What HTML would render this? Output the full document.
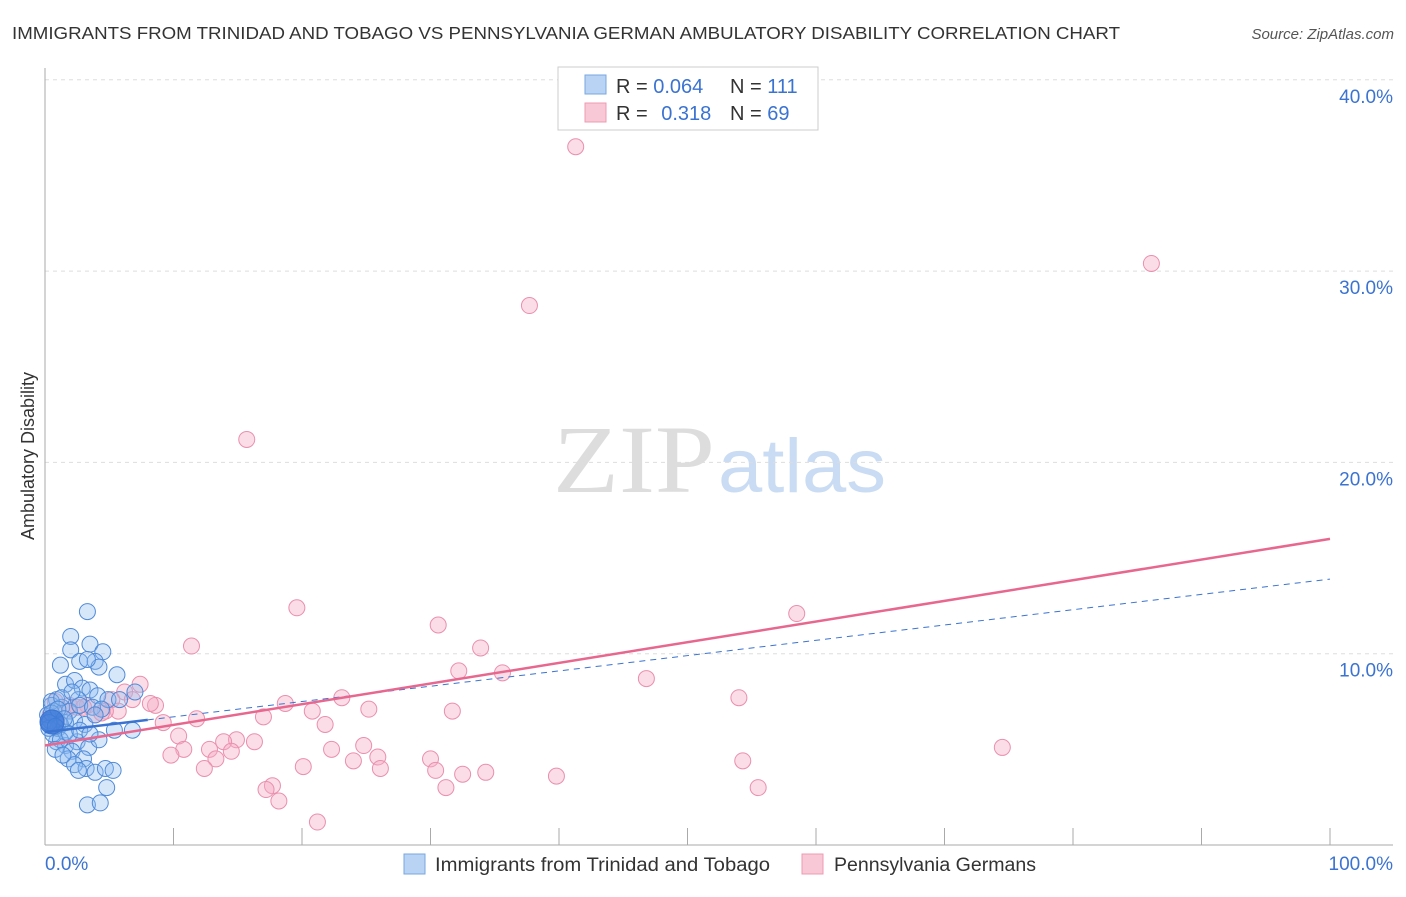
<!DOCTYPE html>
<html><head><meta charset="utf-8"><style>
body{margin:0;background:#fff;font-family:"Liberation Sans",sans-serif;}
svg text{font-family:"Liberation Sans",sans-serif;}
</style></head><body>
<svg id="c" width="1406" height="892">
<text x="12" y="39" font-size="17.5" fill="#333" textLength="1108" lengthAdjust="spacingAndGlyphs">IMMIGRANTS FROM TRINIDAD AND TOBAGO VS PENNSYLVANIA GERMAN AMBULATORY DISABILITY CORRELATION CHART</text>
<text x="1394" y="39" font-size="15" fill="#555" font-style="italic" text-anchor="end">Source: ZipAtlas.com</text>
<text x="34" y="456" font-size="18" fill="#333" text-anchor="middle" transform="rotate(-90 34 456)">Ambulatory Disability</text>
<g>
<text x="553" y="492" font-size="96" fill="#ddd" textLength="162" lengthAdjust="spacingAndGlyphs" style="font-family:'Liberation Serif',serif">ZIP</text>
<text x="718" y="492" font-size="76" fill="#c9dcf3" textLength="168" lengthAdjust="spacingAndGlyphs">atlas</text>
</g>
<g id="grid"></g><g id="axes"></g><g id="pts"></g><g id="lines"></g>
<g>
<rect x="558" y="67" width="260" height="63" fill="#fff" stroke="#ccc"/>
<rect x="585" y="75" width="21" height="19" fill="#b8d3f4" stroke="#7aa7e0"/>
<rect x="585" y="103" width="21" height="19" fill="#f9c8d6" stroke="#ec9bb3"/>
<text x="616" y="93" font-size="20" fill="#333">R = <tspan fill="#3b73d1">0.064</tspan></text>
<text x="730" y="93" font-size="20" fill="#333">N = <tspan fill="#3b73d1">111</tspan></text>
<text x="616" y="120" font-size="20" fill="#333">R = <tspan fill="#3b73d1" dx="8">0.318</tspan></text>
<text x="730" y="120" font-size="20" fill="#333">N = <tspan fill="#3b73d1">69</tspan></text>
</g>
<g>
<rect x="404" y="854" width="21" height="20" fill="#b8d3f4" stroke="#7aa7e0"/>
<text x="435" y="871" font-size="19" fill="#333" textLength="335" lengthAdjust="spacingAndGlyphs">Immigrants from Trinidad and Tobago</text>
<rect x="802" y="854" width="21" height="20" fill="#f9c8d6" stroke="#ec9bb3"/>
<text x="834" y="871" font-size="19" fill="#333" textLength="202" lengthAdjust="spacingAndGlyphs">Pennsylvania Germans</text>
</g>
</svg>
<script>
const yTicks=[10,20,30,40];
const yTickLabels=["10.0%","20.0%","30.0%","40.0%"];
const xTickLabels=["0.0%","100.0%"];
const blueX=[3.3,2.0,3.5,4.5,2.0,1.2,2.7,3.9,5.6,4.2,3.3,1.6,2.3,2.9,3.5,4.1,4.9,2.6,0.9,0.5,1.3,1.9,2.7,3.7,4.4,0.9,1.6,2.3,3.1,3.9,5.4,6.8,0.9,1.6,2.5,3.4,4.2,2.1,1.8,3.0,1.2,0.6,2.3,3.2,3.9,4.7,5.3,4.8,3.3,4.3,0.7,0.4,1.0,1.6,0.2,1.2,1.9,2.7,3.5,0.8,1.4,2.6,7.0,5.8,0.3,0.5,1.3,2.1,0.5,1.0,1.5,0.3,0.8];
const blueY=[12.2,10.9,10.5,10.1,10.2,9.4,9.6,9.6,8.9,9.3,9.7,8.4,8.6,8.2,8.1,7.8,7.6,7.6,7.6,7.3,7.2,7.0,7.3,7.2,7.1,6.6,6.4,6.5,6.3,6.8,6.0,6.0,5.4,5.2,5.4,5.1,5.5,4.9,4.5,4.5,6.3,5.8,4.2,4.0,3.8,4.0,3.9,3.0,2.1,2.2,7.0,6.5,6.1,5.9,6.8,5.5,5.8,6.0,5.8,5.0,4.7,3.9,8.0,7.6,6.1,7.5,7.7,8.0,6.9,7.1,6.6,6.4,6.2];
const pinkX=[41.3,86.1,37.7,15.7,19.6,58.5,30.6,11.4,33.9,32.2,35.6,46.8,54.0,7.4,6.2,6.8,8.6,8.2,5.2,5.7,4.7,23.1,18.7,20.8,25.2,31.7,17.0,11.8,9.2,21.8,10.4,14.9,13.9,12.8,10.8,14.5,16.3,24.8,22.3,25.9,9.8,13.3,30.0,24.0,12.4,20.1,26.1,30.4,32.5,34.3,39.8,54.3,74.5,55.5,17.7,17.2,18.2,31.2,21.2,3.3,3.9,1.2,1.9,0.8,2.5,0.4,1.6,4.4,3.0];
const pinkY=[36.5,30.4,28.2,21.2,12.4,12.1,11.5,10.4,10.3,9.1,9.0,8.7,7.7,8.4,8.0,7.6,7.3,7.4,7.6,7.0,7.0,7.7,7.4,7.0,7.1,7.0,6.7,6.6,6.4,6.3,5.7,5.5,5.4,5.0,5.0,4.9,5.4,5.2,5.0,4.6,4.7,4.5,4.5,4.4,4.0,4.1,4.0,3.9,3.7,3.8,3.6,4.4,5.1,3.0,3.1,2.9,2.3,3.0,1.2,7.3,6.8,6.3,7.3,7.5,7.2,6.8,7.0,6.9,7.2];
const blueFit=[5.9,13.9];
const pinkFit=[5.2,16.0];
const X0=45,X1=1330,Y0=845,PY=19.13;
const sx=v=>X0+v*(X1-X0)/100, sy=v=>Y0-v*PY;
const NS="http://www.w3.org/2000/svg";
function mk(tag,attrs,parent){const e=document.createElementNS(NS,tag);for(const k in attrs)e.setAttribute(k,attrs[k]);document.getElementById(parent).appendChild(e);return e;}
yTicks.forEach((t,i)=>{
 const l=mk('line',{x1:45,x2:1393,y1:sy(t),y2:sy(t),stroke:'#ddd','stroke-dasharray':'4,4'},'grid');
 
 
 const tx=mk('text',{x:1393,y:sy(t)+23,'font-size':19,fill:'#3b73d1','text-anchor':'end'},'grid');
 tx.textContent=yTickLabels[i];
 
 
});
const ax=mk('line',{x1:45,x2:45,y1:68,y2:845,stroke:'#aaa'},'axes');


const bx=mk('line',{x1:45,x2:1393,y1:845,y2:845,stroke:'#aaa'},'axes');


for(let i=1;i<=10;i++){const t=mk('line',{x1:sx(i*10),x2:sx(i*10),y1:828,y2:845,stroke:'#aaa'},'axes');
 
 }
[[0,'start',45],[1,'end',1393]].forEach(([i,a,x])=>{const t=mk('text',{x:x,y:870,'font-size':19,fill:'#3b73d1','text-anchor':a},'axes');t.textContent=xTickLabels[i];
 
 });
pinkX.forEach((v,i)=>{const c=mk('circle',{cx:sx(v),cy:sy(pinkY[i]),r:8,fill:'rgba(246,170,195,0.4)',stroke:'#ea8fad','stroke-width':1},'pts');
 
 });
blueX.forEach((v,i)=>{const c=mk('circle',{cx:sx(v),cy:sy(blueY[i]),r:8,fill:'rgba(140,185,240,0.35)',stroke:'#4f8ad8','stroke-width':1},'pts');
 
 });
const big=mk('circle',{cx:52,cy:722,r:12,fill:'rgba(60,120,215,0.8)',stroke:'#3b73d1'},'pts');


const bf=v=>blueFit[0]+(blueFit[1]-blueFit[0])*v/100, pf=v=>pinkFit[0]+(pinkFit[1]-pinkFit[0])*v/100;
const l1=mk('line',{x1:sx(0),y1:sy(bf(0)),x2:sx(8),y2:sy(bf(8)),stroke:'#3b73d1','stroke-width':2.5},'lines');


const l2=mk('line',{x1:sx(8),y1:sy(bf(8)),x2:sx(100),y2:sy(bf(100)),stroke:'#3b73d1','stroke-width':1,'stroke-dasharray':'6,5'},'lines');


const l3=mk('line',{x1:sx(0),y1:sy(pf(0)),x2:sx(100),y2:sy(pf(100)),stroke:'#e8678f','stroke-width':2.5},'lines');


</script>
</body></html>
